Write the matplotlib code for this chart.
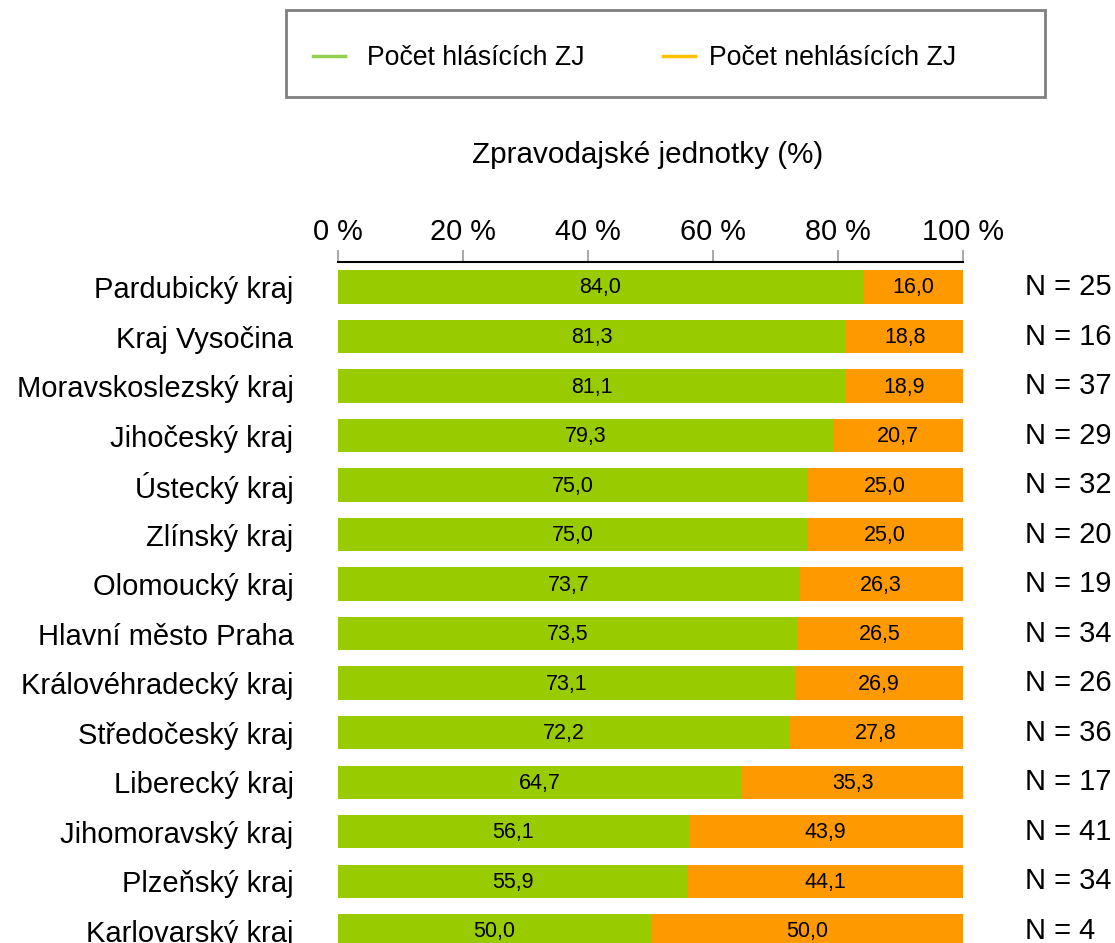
import matplotlib
matplotlib.use('Agg')
from matplotlib import pyplot as plt
from matplotlib.lines import Line2D
from matplotlib.patches import Rectangle

plt.rcParams['font.family'] = ['Liberation Sans', 'DejaVu Sans']

#-----------------data---------------------------#
regions = ['Pardubický kraj', 'Kraj Vysočina', 'Moravskoslezský kraj', 'Jihočeský kraj',
           'Ústecký kraj', 'Zlínský kraj', 'Olomoucký kraj', 'Hlavní město Praha',
           'Královéhradecký kraj', 'Středočeský kraj', 'Liberecký kraj',
           'Jihomoravský kraj', 'Plzeňský kraj', 'Karlovarský kraj']
hlasici = [84.0, 81.3, 81.1, 79.3, 75.0, 75.0, 73.7, 73.5, 73.1, 72.2, 64.7, 56.1, 55.9, 50.0]
nehlasici = [16.0, 18.8, 18.9, 20.7, 25.0, 25.0, 26.3, 26.5, 26.9, 27.8, 35.3, 43.9, 44.1, 50.0]
n_counts = [25, 16, 37, 29, 32, 20, 19, 34, 26, 36, 17, 41, 34, 4]
ticks = [0, 20, 40, 60, 80, 100]

green = '#99CC00'
orange = '#FF9900'

W, H = 1115, 943
fig = plt.figure(figsize=(W / 100, H / 100), dpi=100)
ax = fig.add_axes([338 / W, 0, (963 - 338) / W, 1 - 262 / H])

y = list(range(len(regions)))
ax.barh(y, hlasici, height=0.67, color=green, edgecolor='none')
ax.barh(y, nehlasici, left=hlasici, height=0.67, color=orange, edgecolor='none')

for i in y:
    ax.text(hlasici[i] / 2, i + 0.02, f'{hlasici[i]:.1f}'.replace('.', ','),
            ha='center', va='center', fontsize=15.5)
    ax.text(hlasici[i] + nehlasici[i] / 2, i + 0.02, f'{nehlasici[i]:.1f}'.replace('.', ','),
            ha='center', va='center', fontsize=15.5)
    ax.text(109.9, i, f'N = {n_counts[i]}', ha='left', va='center', fontsize=21,
            clip_on=False)

ax.set_xlim(0, 100)
ax.set_ylim(13.25, -0.505)
ax.set_yticks(y)
ax.set_yticklabels(regions, fontsize=21)
ax.tick_params(axis='y', length=0, pad=32)
ax.xaxis.tick_top()
ax.set_xticks(ticks)
ax.set_xticklabels([f'{t} %' for t in ticks], fontsize=20.8)
ax.tick_params(axis='x', direction='out', length=8.6, color='#999999', width=1.2, pad=3)
for s in ['left', 'right', 'bottom']:
    ax.spines[s].set_visible(False)
ax.spines['top'].set_linewidth(1.5)
ax.spines['top'].set_color('black')

fig.text(648 / W, 1 - 155 / H, 'Zpravodajské jednotky (%)', ha='center', va='center',
         fontsize=21.3)

# legend box drawn by hand
fig.patches.append(Rectangle((286 / W, 1 - 97 / H), (1045 - 286) / W, 87 / H,
                             transform=fig.transFigure, fill=False,
                             edgecolor='#808080', linewidth=2))
ly = 1 - 56 / H
fig.lines.append(Line2D([313 / W, 345 / W], [ly, ly], transform=fig.transFigure,
                        color='#92D050', linewidth=2.5))
fig.lines.append(Line2D([663 / W, 695 / W], [ly, ly], transform=fig.transFigure,
                        color='#FFC000', linewidth=2.5))
fig.text(367 / W, ly - 0.002, 'Počet hlásících ZJ', ha='left', va='center', fontsize=19.2)
fig.text(709 / W, ly - 0.002, 'Počet nehlásících ZJ', ha='left', va='center', fontsize=19.2)

plt.savefig('out.png', dpi=100)
